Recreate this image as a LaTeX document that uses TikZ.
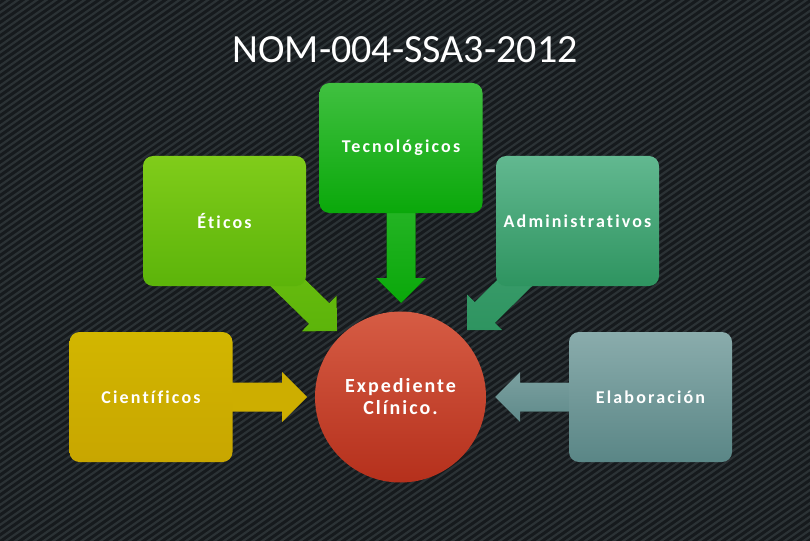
\documentclass[tikz,border=0pt]{standalone}
\usepackage{fontspec}
\setmainfont{Carlito}[RawFeature={-liga;-dlig}]
\usetikzlibrary{calc}
\definecolor{bgdark}{HTML}{161A1D}
\definecolor{bgstripe}{HTML}{2B3235}
\definecolor{tecT}{HTML}{40C040}\definecolor{tecB}{HTML}{0AA80A}
\definecolor{etiT}{HTML}{80CC1A}\definecolor{etiB}{HTML}{5CB40A}
\definecolor{admT}{HTML}{62B890}\definecolor{admB}{HTML}{2E9460}
\definecolor{cieT}{HTML}{D2B600}\definecolor{cieB}{HTML}{C8A600}
\definecolor{elaT}{HTML}{8AACAC}\definecolor{elaB}{HTML}{5A8686}
\definecolor{expT}{HTML}{D65C44}\definecolor{expB}{HTML}{B5301C}
\newcommand\blkarrow[4]{%
  \coordinate (#4b) at ($(#3)!25pt!(#2)$);
  \fill[#1] ($(#2)!14.5pt!90:(#3)$) -- ($(#4b)!14.5pt!90:(#3)$) -- ($(#4b)!25pt!90:(#3)$) -- (#3)
    -- ($(#4b)!25pt!-90:(#3)$) -- ($(#4b)!14.5pt!-90:(#3)$) -- ($(#2)!14.5pt!-90:(#3)$) -- cycle;}
\tikzset{
  box/.style={rounded corners=10pt, minimum width=163pt, minimum height=130pt, inner sep=0pt,
    text=white, font=\fontsize{18}{21}\selectfont\bfseries\addfontfeature{LetterSpace=12}},
  stripe/.style={draw=bgstripe, line width=2.2pt},
}
\begin{document}
\begin{tikzpicture}[x=1pt,y=-1pt]
\useasboundingbox (0,0) rectangle (810,540);
\fill[bgdark] (-10,-10) rectangle (820,550);
\begin{scope}
\clip (-10,-10) rectangle (820,550);
\foreach \i in {-810,-800.5,...,830} \draw[stripe] (\i,560) -- ++(828,-580);
\end{scope}
\node[text=white, font=\fontsize{40}{48}\selectfont] (title) at (405,50) {NOM-004-SSA3-2012};
% tips
\coordinate (tTec) at (401,303);
\coordinate (tEti) at (337,331);
\coordinate (tAdm) at (467,330);
\coordinate (tCie) at (307,397);
\coordinate (tEla) at (495,397);
% node centres
\coordinate (cTec) at (401,148);
\coordinate (cEti) at (224.5,221);
\coordinate (cAdm) at (577.5,221);
\coordinate (cCie) at (151,397);
\coordinate (cEla) at (650.5,397);
% arrows (behind boxes)
\blkarrow{top color=tecT!80!tecB, bottom color=tecB}{cTec}{tTec}{aTec}
\blkarrow{top color=etiT!60!etiB, bottom color=etiB}{cEti}{tEti}{aEti}
\blkarrow{top color=admT!40!admB, bottom color=admB}{cAdm}{tAdm}{aAdm}
\blkarrow{fill=cieT!50!cieB}{cCie}{tCie}{aCie}
\blkarrow{top color=elaT!70!elaB, bottom color=elaB!90!elaT}{cEla}{tEla}{aEla}
% boxes
\node[box, top color=tecT, bottom color=tecB] (tec) at (cTec) {Tecnológicos};
\node[box, top color=etiT, bottom color=etiB] (eti) at (cEti) {Éticos};
\node[box, top color=admT, bottom color=admB] (adm) at (cAdm) {Administrativos};
\node[box, top color=cieT, bottom color=cieB] (cie) at (cCie) {Científicos};
\node[box, top color=elaT, bottom color=elaB] (ela) at (cEla) {Elaboración};
\node[circle, minimum size=171pt, inner sep=0pt, top color=expT, bottom color=expB,
  text=white, align=center, font=\fontsize{20}{22}\selectfont\bfseries\addfontfeature{LetterSpace=10}] (exp) at (400.5,397) {Expediente\\Clínico.};
\end{tikzpicture}
\end{document}
